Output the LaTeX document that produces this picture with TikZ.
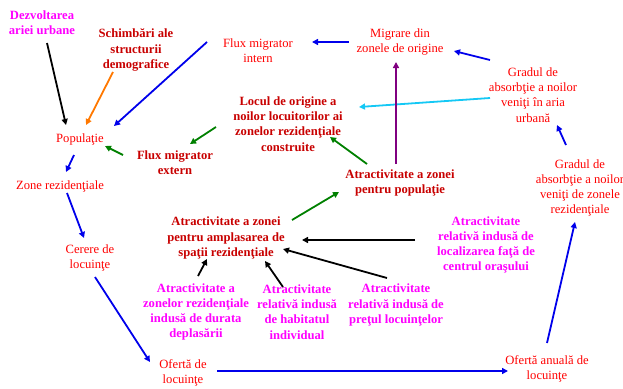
\documentclass[tikz,border=0pt]{standalone}
\usepackage{fontspec}
\setmainfont{Liberation Serif}
\usetikzlibrary{arrows.meta}
\definecolor{tred}{RGB}{255,0,0}
\definecolor{dred}{RGB}{200,0,0}
\definecolor{tmag}{RGB}{255,0,255}
\definecolor{ablue}{RGB}{0,0,235}
\definecolor{agreen}{RGB}{0,128,0}
\definecolor{aorange}{RGB}{255,120,0}
\definecolor{acyan}{RGB}{20,200,245}
\definecolor{apurple}{RGB}{128,0,128}
\tikzset{
  lbl/.style={align=center, inner sep=0pt, font=\fontsize{12.6}{15.2}\selectfont},
  nrm/.style={lbl, text=tred},
  bld/.style={lbl, text=dred, font=\fontsize{12.6}{15.2}\selectfont\bfseries},
  mag/.style={lbl, text=tmag, font=\fontsize{12.6}{15.2}\selectfont\bfseries},
  arr/.style={line width=1.8pt, -{Triangle[length=6pt,width=6pt]}},
}
\begin{document}
\begin{tikzpicture}[x=1pt,y=-1pt]
\useasboundingbox (0,0) rectangle (623,388);
\node[mag] (dez) at (42,23) {Dezvoltarea\\ariei urbane};
\node[bld] (sch) at (136,50) {Schimbări ale\\structurii\\demografice};
\node[nrm] (fmi) at (258,51) {Flux migrator\\intern};
\node[nrm] (mig) at (400,42) {Migrare din\\zonele de origine};
\node[nrm] (gr1) at (533,95) {Gradul de\\absorbţie a noilor\\veniţi în aria\\urbană};
\node[bld] (loc) at (288,124) {Locul de origine a\\noilor locuitorilor ai\\zonelor rezidenţiale\\construite};
\node[nrm] (pop) at (80,139) {Populaţie};
\node[bld] (fme) at (175,163) {Flux migrator\\extern};
\node[bld] (apop) at (400,183) {Atractivitate a zonei\\pentru populaţie};
\node[nrm] (zon) at (60,186) {Zone rezidenţiale};
\node[nrm] (gr2) at (580,188) {Gradul de\\absorbţie a noilor\\veniţi de zonele\\rezidenţiale};
\node[nrm] (cer) at (90,258) {Cerere de\\locuinţe};
\node[bld] (aamp) at (226,238) {Atractivitate a zonei\\pentru amplasarea de\\spaţii rezidenţiale};
\node[mag] (aloc) at (486,245) {Atractivitate\\relativă indusă de\\localizarea faţă de\\centrul oraşului};
\node[mag] (adur) at (196,312) {Atractivitate a\\zonelor rezidenţiale\\indusă de durata\\deplasării};
\node[mag] (ahab) at (297,312) {Atractivitate\\relativă indusă\\de habitatul\\individual};
\node[mag] (apre) at (396,305) {Atractivitate\\relativă indusă de\\preţul locuinţelor};
\node[nrm] (ofe) at (183,373) {Ofertă de\\locuinţe};
\node[nrm] (ofa) at (547,369) {Ofertă anuală de\\locuinţe};

\draw[arr,black] ([shift={(5,20)}]dez.center) -- ([shift={(-14,-14)}]pop.center);
\draw[arr,aorange] ([shift={(-23,22)}]sch.center) -- ([shift={(6,-14)}]pop.center);
\draw[arr,ablue] ([shift={(-51,-9)}]fmi.center) -- ([shift={(34,-13)}]pop.center);
\draw[arr,ablue] ([shift={(-51,0)}]mig.center) -- ([shift={(54,-9)}]fmi.center);
\draw[arr,ablue] ([shift={(-43,-35)}]gr1.center) -- ([shift={(54,9)}]mig.center);
\draw[arr,acyan] ([shift={(-43,3)}]gr1.center) -- ([shift={(71,-17)}]loc.center);
\draw[arr,agreen] ([shift={(-72,3)}]loc.center) -- ([shift={(15,-19)}]fme.center);
\draw[arr,agreen] ([shift={(-52,-8)}]fme.center) -- ([shift={(25,7)}]pop.center);
\draw[arr,apurple] ([shift={(-4,-19)}]apop.center) -- ([shift={(-4,20)}]mig.center);
\draw[arr,agreen] ([shift={(-33,-19)}]apop.center) -- ([shift={(42,13)}]loc.center);
\draw[arr,ablue] ([shift={(-6,16)}]pop.center) -- ([shift={(6,-14)}]zon.center);
\draw[arr,ablue] ([shift={(7,7)}]zon.center) -- ([shift={(-6,-20)}]cer.center);
\draw[arr,ablue] ([shift={(5,19)}]cer.center) -- ([shift={(-33,-11)}]ofe.center);
\draw[arr,ablue] ([shift={(34,-2)}]ofe.center) -- ([shift={(-39,2)}]ofa.center);
\draw[arr,ablue] ([shift={(0,-26)}]ofa.center) -- ([shift={(-5,34)}]gr2.center);
\draw[arr,ablue] ([shift={(-14,-43)}]gr2.center) -- ([shift={(24,30)}]gr1.center);
\draw[arr,agreen] ([shift={(66,-18)}]aamp.center) -- ([shift={(-61,9)}]apop.center);
\draw[arr,black] ([shift={(-71,-5)}]aloc.center) -- ([shift={(76,2)}]aamp.center);
\draw[arr,black] ([shift={(-9,-27)}]apre.center) -- ([shift={(57,11)}]aamp.center);
\draw[arr,black] ([shift={(-14,-25)}]ahab.center) -- ([shift={(39,23)}]aamp.center);
\draw[arr,black] ([shift={(2,-36)}]adur.center) -- ([shift={(-19,21)}]aamp.center);
\end{tikzpicture}
\end{document}
